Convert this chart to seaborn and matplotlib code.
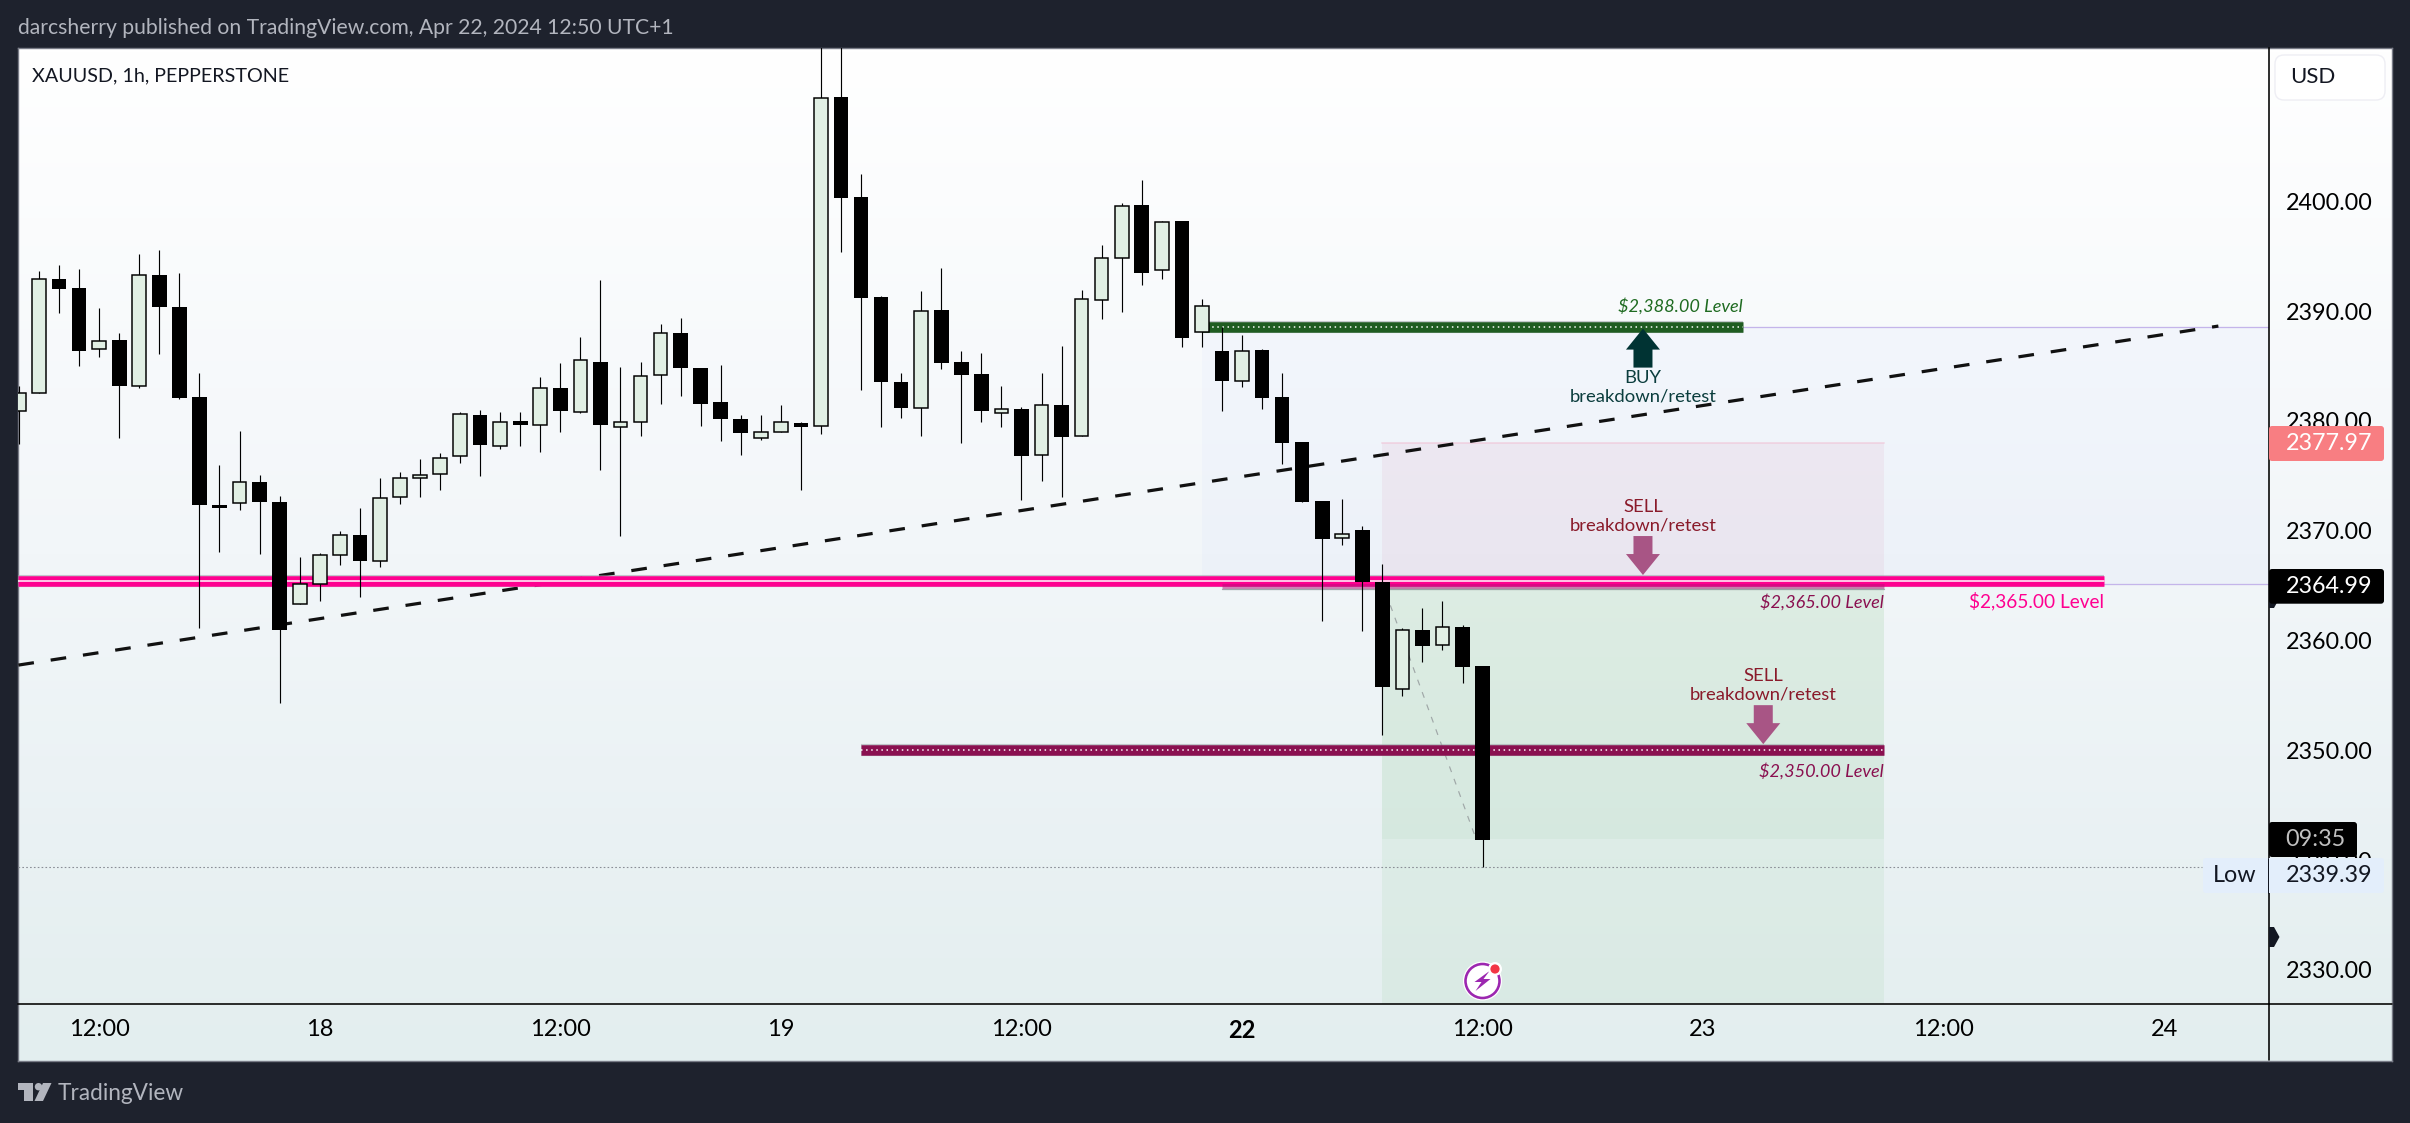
import numpy as np
import pandas as pd
import seaborn as sns
import matplotlib.pyplot as plt
from matplotlib.colors import LinearSegmentedColormap
from matplotlib.patches import Circle, FancyBboxPatch, Polygon, Rectangle

# Hourly candles (xauusd 1h, pepperstone)
highs = [2383.2, 2393.6, 2394.2, 2393.8, 2390.3, 2388.0, 2395.2, 2395.6, 2393.5, 2384.4,
         2376.0, 2379.1, 2375.1, 2373.2, 2367.6, 2368.0, 2370.0, 2372.1, 2374.8, 2375.3,
         2376.5, 2377.1, 2380.8, 2381.0, 2380.8, 2380.8, 2384.0, 2385.3, 2387.6, 2392.8,
         2384.9, 2385.4, 2388.8, 2389.4, 2384.8, 2385.1, 2380.5, 2380.5, 2381.4, 2379.9,
         2418.0, 2418.0, 2402.5, 2391.4, 2384.4, 2391.8, 2393.9, 2386.4, 2386.2, 2383.2,
         2381.25, 2384.4, 2386.8, 2391.9, 2396.0, 2399.8, 2401.9, 2398.2, 2398.2, 2391.1,
         2388.5, 2387.8, 2386.55, 2384.4, 2378.05, 2372.7, 2372.9, 2370.4, 2367.0, 2361.1,
         2363.0, 2363.6, 2361.4, 2357.7]
lows = [2377.9, 2382.5, 2389.8, 2385.0, 2385.8, 2378.4, 2383.0, 2386.1, 2382.0, 2361.1,
        2368.1, 2371.9, 2367.9, 2354.3, 2363.3, 2363.6, 2366.9, 2364.0, 2366.7, 2372.4,
        2373.1, 2373.7, 2376.2, 2375.0, 2377.4, 2377.7, 2377.2, 2379.0, 2380.7, 2375.5,
        2369.5, 2378.6, 2381.5, 2382.3, 2379.5, 2378.2, 2376.9, 2378.25, 2379.0, 2373.7,
        2378.8, 2395.4, 2382.8, 2379.4, 2380.3, 2378.6, 2384.7, 2378.0, 2379.9, 2379.4,
        2372.8, 2374.5, 2373.05, 2378.6, 2389.3, 2389.9, 2392.4, 2392.9, 2386.7, 2386.7,
        2380.9, 2383.1, 2381.1, 2376.1, 2372.6, 2361.8, 2368.7, 2360.9, 2351.4, 2354.95,
        2358.0, 2359.15, 2356.15, 2339.4]
body_tops = [2382.55, 2392.9, 2392.9, 2392.1, 2387.3, 2387.4, 2393.3, 2393.3, 2390.4, 2382.2,
             2372.3, 2374.4, 2374.4, 2372.6, 2365.1, 2367.8, 2369.6, 2369.6, 2373.0, 2374.8,
             2375.1, 2376.66, 2380.6, 2380.5, 2379.9, 2380.0, 2383.0, 2383.0, 2385.5, 2385.4,
             2379.85, 2384.1, 2388.0, 2388.0, 2384.8, 2381.7, 2380.15, 2379.0, 2379.85, 2379.8,
             2409.4, 2409.5, 2400.4, 2391.3, 2383.5, 2390.0, 2390.1, 2385.35, 2384.3, 2381.05,
             2381.1, 2381.4, 2381.4, 2391.1, 2394.8, 2399.6, 2399.66, 2398.1, 2398.2, 2390.5,
             2386.4, 2386.4, 2386.45, 2382.2, 2378.05, 2372.7, 2369.7, 2370.05, 2365.3, 2361.0,
             2360.95, 2361.2, 2361.2, 2357.7]
body_bottoms = [2380.92, 2382.5, 2392.0, 2386.4, 2386.5, 2383.2, 2383.2, 2390.4, 2382.1, 2372.3,
                2372.1, 2372.5, 2372.6, 2361.0, 2363.3, 2365.1, 2367.8, 2367.2, 2367.2, 2373.05,
                2374.8, 2375.2, 2376.8, 2377.8, 2377.7, 2379.6, 2379.6, 2380.9, 2380.8, 2379.6,
                2379.4, 2379.85, 2384.2, 2384.85, 2381.5, 2380.2, 2378.85, 2378.4, 2379.0, 2379.4,
                2379.5, 2400.3, 2391.2, 2383.5, 2381.2, 2381.2, 2385.3, 2384.2, 2380.9, 2380.75,
                2376.8, 2376.9, 2378.5, 2378.6, 2391.0, 2394.8, 2393.5, 2393.7, 2387.5, 2388.1,
                2383.6, 2383.65, 2382.1, 2378.0, 2372.6, 2369.2, 2369.3, 2365.3, 2355.75, 2355.6,
                2359.5, 2359.55, 2357.6, 2341.8]
# 1 = up candle (light), 0 = down candle (black)
is_up = [1, 1, 0, 0, 1, 0, 1, 0, 0, 0,
         0, 1, 0, 0, 1, 1, 1, 0, 1, 1,
         1, 1, 1, 0, 1, 0, 1, 0, 1, 0,
         1, 1, 1, 0, 0, 0, 0, 1, 1, 0,
         1, 0, 0, 0, 0, 1, 0, 0, 0, 1,
         0, 1, 0, 1, 1, 1, 0, 1, 0, 1,
         0, 1, 0, 0, 0, 0, 1, 0, 0, 1,
         0, 1, 0, 0]

price_ticks = [2330, 2340, 2350, 2360, 2370, 2380, 2390, 2400]
time_ticks = [4, 15, 27, 38, 50, 61, 73, 84, 96, 107]
time_labels = ['12:00', '18', '12:00', '19', '12:00', '22', '12:00', '23', '12:00', '24']

buy_level = 2388.5
main_level = 2365.41
sell_level = 2365.1
low_level = 2350.0
trend_x = [-0.03, 109.7]
trend_y = [2357.76, 2388.63]
stop_price = 2377.97
target_price = 2341.9
day_low = 2339.39

BG_DARK = '#1e222d'
UP_FILL = '#e1efe4'
PINK = '#ff0090'
GREEN = '#1f5c21'
MAROON = '#8a1050'
WINE = '#8a1a2a'
ARROW_SELL = '#a85585'
INK = '#131722'
PX = 0.72  # line widths below are given in pixels, dpi is 100

sns.set_theme(style='white')
plt.rcParams['font.family'] = 'Lato'

W, H = 2410, 1123
fig = plt.figure(figsize=(W / 100, H / 100), dpi=100, facecolor=BG_DARK)


def box(left, top, right, bottom):
    return [left / W, 1 - bottom / H, (right - left) / W, (bottom - top) / H]


# gradient panel behind everything
bg = fig.add_axes(box(18.4, 48, 2392, 1060.6), zorder=0)
cmap = LinearSegmentedColormap.from_list('panel', ['#ffffff', '#f2f6f9', '#e3eeef'])
bg.imshow(np.linspace(0, 1, 256).reshape(-1, 1), aspect='auto', cmap=cmap)
bg.set_xticks([])
bg.set_yticks([])
for s in bg.spines.values():
    s.set_color('#787b86')
    s.set_linewidth(1.4 * PX)

ax = fig.add_axes(box(18.4, 48, 2268.5, 1004), zorder=2)
ax.patch.set_visible(False)

# tidy tables for seaborn
candles = pd.DataFrame({'i': np.arange(len(highs)), 'high': highs, 'low': lows,
                        'top': body_tops, 'bottom': body_bottoms, 'up': is_up})
candles['height'] = candles['top'] - candles['bottom']
wicks = candles.melt(id_vars='i', value_vars=['high', 'low'], value_name='price')

sns.lineplot(data=wicks, x='i', y='price', units='i', estimator=None, color='black',
             linewidth=1.15 * PX, solid_capstyle='butt', zorder=4, ax=ax)

up = candles[candles['up'] == 1]
down = candles[candles['up'] == 0]
sns.barplot(data=up, x='i', y='height', bottom=up['bottom'], native_scale=True, width=0.68,
            color=UP_FILL, saturation=1, edgecolor='black', linewidth=1.5 * PX,
            errorbar=None, zorder=5, ax=ax)
sns.barplot(data=down, x='i', y='height', bottom=down['bottom'], native_scale=True, width=0.73,
            color='black', saturation=1, edgecolor='black', linewidth=0,
            errorbar=None, zorder=5, ax=ax)

ax.set_xlim(-0.03, 112.2)
ax.set_ylim(2326.9, 2413.95)
ax.set_xlabel('')
ax.set_ylabel('')

# position boxes
ax.add_patch(Rectangle((59, sell_level), 53.2, buy_level - sell_level, color='#2962ff', alpha=0.025, lw=0, zorder=1))
ax.add_patch(Rectangle((67.96, main_level), 25.04, stop_price - main_level, color='#c2185b', alpha=0.05, lw=0, zorder=1))
ax.plot([67.96, 93], [stop_price, stop_price], color='#f0c0d4', lw=2 * PX, alpha=0.5, zorder=1)
ax.add_patch(Rectangle((67.96, target_price), 25.04, sell_level - target_price, color='#4caf50', alpha=0.12, lw=0, zorder=1))
ax.add_patch(Rectangle((67.96, 2326.9), 25.04, target_price - 2326.9, color='#4caf50', alpha=0.07, lw=0, zorder=1))
ax.plot([86, 112.2], [buy_level, buy_level], color='#c4b5ea', lw=1.3 * PX, zorder=1)
ax.plot([104, 112.2], [sell_level, sell_level], color='#c4b5ea', lw=1.3 * PX, zorder=1)

# dotted low line and the thin dashed projection
ax.plot([-0.03, 108.9], [day_low, day_low], color='#8a8e96', lw=1.1 * PX, ls=(0, (1.5, 2)), zorder=1.5)
ax.plot([68.4, 72.6], [2363.2, 2342.3], color='#a0a8a8', lw=1.2 * PX, ls=(0, (5, 6)), zorder=2)

# trend line
ax.plot(trend_x, trend_y, color='#111111', lw=3.2 * PX, ls=(0, (4.9, 5.3)), dash_capstyle='butt', zorder=2)

# thick levels with the white centre stripe
def level(x0, x1, y, color, dotted=True, width=10.5):
    ax.plot([x0, x1], [y, y], color='#9aa0a6', lw=(width + 1.6) * PX, alpha=0.55, solid_capstyle='butt', zorder=3)
    ax.plot([x0, x1], [y, y], color=color, lw=width * PX, solid_capstyle='butt', zorder=3)
    style = (0, (1, 2.4)) if dotted else '-'
    ax.plot([x0, x1], [y, y], color='white', lw=1.5 * PX, ls=style, zorder=3)


level(-0.03, 104, main_level, PINK, dotted=False)
ax.plot([60, 93], [sell_level - 0.12, sell_level - 0.12], color='#b5127a', alpha=0.5, lw=5 * PX, solid_capstyle='butt', zorder=3)
ax.plot([60, 93], [sell_level - 0.42, sell_level - 0.42], color='#80868b', lw=1.3 * PX, alpha=0.7, zorder=3)
level(59, 86, buy_level, GREEN)
level(42, 93, low_level, MAROON)

# axes furniture
ax.set_yticks(price_ticks)
ax.set_yticklabels([f'{p:.2f}' for p in price_ticks])
ax.yaxis.tick_right()
ax.set_xticks(time_ticks)
ax.set_xticklabels(time_labels)
ax.tick_params(axis='y', length=0, pad=12.2, labelsize=16.8, colors='black')
ax.tick_params(axis='x', length=0, pad=11, labelsize=17, colors='black')
for t in ax.get_xticklabels():
    if t.get_text() == '22':
        t.set_fontweight('bold')
for name, s in ax.spines.items():
    s.set_visible(name in ('right', 'bottom'))
    s.set_color('black')
    s.set_linewidth(1.6 * PX)

# annotations
ax.text(86, 2390.46, '$2,388.00 Level', color='#1f6b21', style='italic', fontsize=13.1, ha='right', va='center')
ax.text(93, 2363.5, '$2,365.00 Level', color=MAROON, style='italic', fontsize=13.1, ha='right', va='center')
ax.text(93, 2348.1, '$2,350.00 Level', color=MAROON, style='italic', fontsize=13.1, ha='right', va='center')
ax.text(104, 2363.6, '$2,365.00 Level', color=PINK, fontsize=13.7, ha='right', va='center')
for x, y1, y2, col, word in [(81, 2383.9, 2382.26, '#0b3d3d', 'BUY'),
                             (81, 2372.15, 2370.5, WINE, 'SELL'),
                             (87, 2356.76, 2355.1, WINE, 'SELL')]:
    ax.text(x, y1, word, color=col, fontsize=13.3, ha='center', va='center')
    ax.text(x, y2, 'breakdown/retest', color=col, fontsize=13.3, ha='center', va='center')


def block_arrow(i, price, sign, color):
    # sign +1 points up with the tip at (i, price), -1 points down
    x, y = ax.transData.transform((i, price))
    shape = [(0, 0), (-17, -21), (-9.5, -21), (-9.5, -39), (9.5, -39), (9.5, -21), (17, -21)]
    pts = [(x + dx, y + sign * dy) for dx, dy in shape]
    ax.add_patch(Polygon(pts, closed=True, transform=None, color=color, lw=0, zorder=6))


block_arrow(81, 2388.4, 1, '#003333')
block_arrow(81, 2365.96, -1, ARROW_SELL)
block_arrow(87, 2350.56, -1, ARROW_SELL)

# overlay in pixel coords for the screenshot chrome
px = fig.add_axes([0, 0, 1, 1], zorder=5)
px.set_xlim(0, W)
px.set_ylim(H, 0)
px.axis('off')
px.patch.set_visible(False)

px.text(18, 28, 'darcsherry published on TradingView.com, Apr 22, 2024 12:50 UTC+1',
        color='#b2b5be', fontsize=15.2, va='center', ha='left')
px.text(32.5, 75.7, 'XAUUSD, 1h, PEPPERSTONE', color=INK, fontsize=14.25, va='center', ha='left')

px.plot([2268.5, 2392], [1004, 1004], color='black', lw=1.6 * PX)
px.plot([2268.5, 2268.5], [1004, 1060], color='black', lw=1.6 * PX)

px.add_patch(FancyBboxPatch((2278, 58), 104, 39, boxstyle='round,pad=3,rounding_size=9',
                            fc='#ffffff', ec='#eeeef4', lw=1.4 * PX))
px.text(2312.5, 77, 'USD', color=INK, fontsize=16, ha='center', va='center')


def tag(x0, x1, y0, y1, fc, label, tx, color):
    px.add_patch(FancyBboxPatch((x0, y0), x1 - x0, y1 - y0, boxstyle='round,pad=0,rounding_size=3', fc=fc, ec='none', lw=0))
    px.text(tx, (y0 + y1) / 2, label, color=color, fontsize=16.8, ha='center', va='center')


for yy in (598, 937):
    px.add_patch(Polygon([(2269, yy - 10), (2274, yy - 10), (2279.5, yy), (2274, yy + 10), (2269, yy + 10)],
                         closed=True, fc=INK, ec='none'))

tag(2269, 2384, 426, 461, '#f87e82', f'{stop_price:.2f}', 2329, 'white')
tag(2269, 2384, 569, 603.7, 'black', '2364.99', 2329, 'white')
tag(2269, 2357, 822, 857, 'black', '09:35', 2315, '#c0c0c0')
tag(2203, 2384, 858, 893, '#e3eefb', '', 2329, INK)
px.text(2235, 875.5, 'Low', color=INK, fontsize=16.8, ha='center', va='center')
px.text(2329, 875.5, f'{day_low:.2f}', color=INK, fontsize=16.8, ha='center', va='center')
px.plot([2268, 2268], [858, 893], color=INK, lw=1 * PX)

# the lightning badge
cx, cy = 1482.5, 981
px.add_patch(Circle((cx, cy), 19.5, fc='white', ec='none'))
px.add_patch(Circle((cx, cy), 17, fc='white', ec='#9c27b0', lw=2.6 * PX))
px.add_patch(Polygon([(cx + 7, cy - 10), (cx - 8, cy + 1), (cx - 1, cy + 1), (cx - 7, cy + 10),
                      (cx + 8, cy - 2), (cx + 1, cy - 2)], closed=True, fc='#9c27b0', ec='none'))
px.add_patch(Circle((1495, 969), 7, fc='white', ec='none'))
px.add_patch(Circle((1495, 969), 4.6, fc='#f23645', ec='none'))

# tradingview logo
LOGO = '#b2b5be'
px.add_patch(Polygon([(18, 1083), (33, 1083), (33, 1101), (24, 1101), (24, 1090), (18, 1090)], closed=True, fc=LOGO, ec='none'))
px.add_patch(Circle((38.5, 1086.7), 3.7, fc=LOGO, ec='none'))
px.add_patch(Polygon([(43, 1083), (51.5, 1083), (43, 1101), (34.5, 1101)], closed=True, fc=LOGO, ec='none'))
px.text(58, 1093, 'TradingView', color=LOGO, fontsize=16.3, va='center', ha='left')

fig.savefig('out.png', dpi=100, facecolor=BG_DARK)
